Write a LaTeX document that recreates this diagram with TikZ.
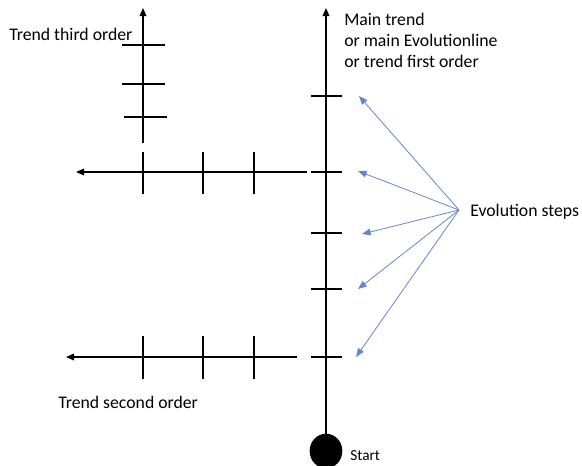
\documentclass[tikz,border=0pt]{standalone}
\usepackage{fontspec}
\setmainfont{Carlito}
\usetikzlibrary{arrows.meta,shapes.geometric}
\definecolor{stepblue}{HTML}{4472C4}
\begin{document}
\begin{tikzpicture}[x=0.75pt,y=-0.75pt,
  axis/.style={line width=0.9pt,black},
  tick/.style={line width=0.9pt,black},
  axisarrow/.style={axis,-{Triangle[length=6pt,width=5pt]}},
  steparrow/.style={stepblue!85,line width=0.6pt,-{Triangle[length=6.5pt,width=5pt]}},
  label/.style={font=\fontsize{13.3}{15.4}\selectfont,inner sep=0pt}]
\useasboundingbox (0,0) rectangle (582,465);

% main trend
\coordinate (mainbot) at (326,440);
\coordinate (maintop) at (326,8);
\draw[axisarrow] (mainbot) -- (maintop);
\node[ellipse, fill=black, minimum width=24.5pt, minimum height=26pt, inner sep=0pt] (start) at (326,451) {};
\node[label, font=\fontsize{11.5}{13}\selectfont, anchor=base west] (startlbl) at (350,460) {Start};

% evolution steps on the main trend
\foreach \y in {96,172,233,289,357} {
  \draw[tick] (311,\y) -- (342,\y);
}

% second-order trends
\coordinate (b1start) at (307,172);
\coordinate (b1end) at (76,172);
\draw[axisarrow] (b1start) -- (b1end);
\foreach \x in {143,203,254} \draw[tick] (\x,152) -- (\x,194);

\coordinate (b2start) at (297,357);
\coordinate (b2end) at (66,357);
\draw[axisarrow] (b2start) -- (b2end);
\foreach \x in {143,203,254} \draw[tick] (\x,336) -- (\x,379);

% third-order trend
\coordinate (t3bot) at (143,143);
\coordinate (t3top) at (143,8);
\draw[axisarrow] (t3bot) -- (t3top);
\draw[tick] (122,45) -- (165,45);
\draw[tick] (122,84) -- (165,84);
\draw[tick] (124,117) -- (167,117);

% labels (the three-line label is anchored at its last baseline)
\node[label, anchor=base west] (third) at (9,40) {Trend third order};
\node[label, anchor=base west] (second) at (58,408) {Trend second order};
\node[label, anchor=base west, align=left] (mainlbl) at (344,67)
  {Main trend\\or main Evolutionline\\or trend first order};
\node[label, anchor=base west] (steps) at (470,216) {Evolution steps};

% arrows to the evolution steps
\coordinate (hub) at (459,210);
\coordinate (e1) at (359,96);
\coordinate (e2) at (358,171);
\coordinate (e3) at (362,234);
\coordinate (e4) at (358,289);
\coordinate (e5) at (356,357);
\foreach \e in {e1,e2,e3,e4,e5} \draw[steparrow] (hub) -- (\e);
\end{tikzpicture}
\end{document}
